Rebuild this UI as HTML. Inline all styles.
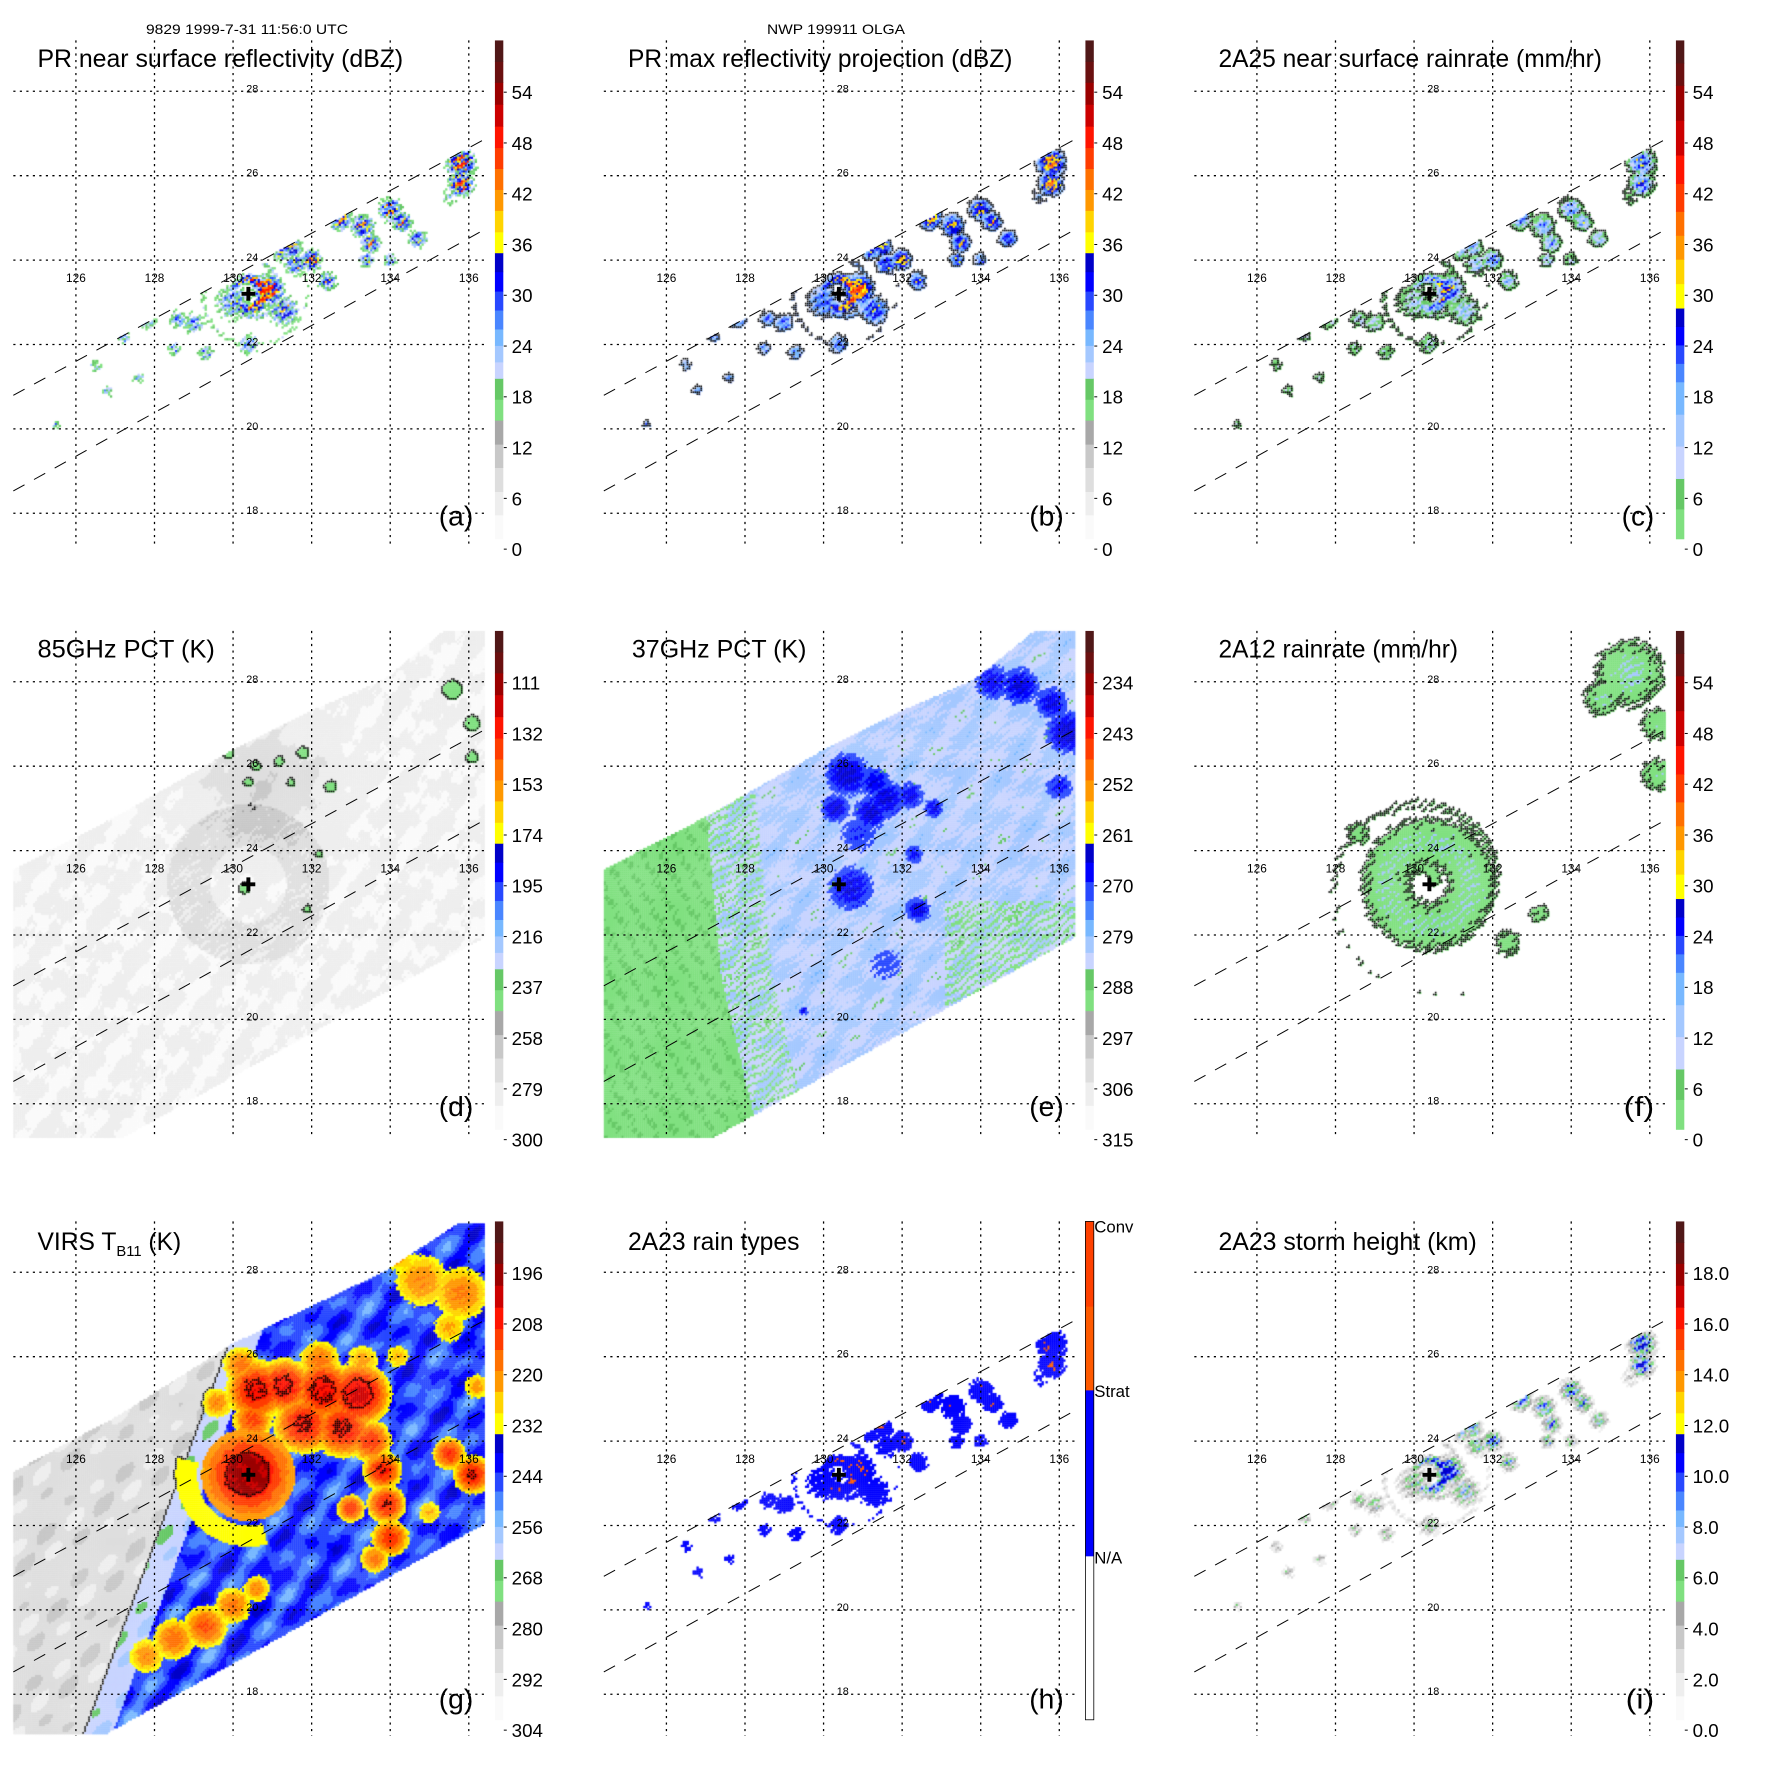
<!DOCTYPE html>
<html><head><meta charset="utf-8">
<style>
html,body{margin:0;padding:0;background:#fff;}
#wrap{position:relative;width:1771px;height:1771px;overflow:hidden;background:#fff;}
#field{position:absolute;left:0;top:0;}
#chart{position:absolute;left:0;top:0;}
text{font-family:"Liberation Sans",sans-serif;fill:#000;}
</style></head>
<body>
<div id="wrap">
<canvas id="field" width="1771" height="1771"></canvas>
<svg id="chart" width="1771" height="1771" viewBox="0 0 1771 1771" xmlns="http://www.w3.org/2000/svg">
 <text x="247" y="34" font-size="14" text-anchor="middle" textLength="202" lengthAdjust="spacingAndGlyphs">9829 1999-7-31 11:56:0 UTC</text>
 <text x="836" y="34" font-size="14" text-anchor="middle" textLength="138" lengthAdjust="spacingAndGlyphs">NWP 199911 OLGA</text>
 <g id="pa" transform="translate(0,0) scale(0.9859)">
  <text x="38" y="68" font-size="25" textLength="371" lengthAdjust="spacingAndGlyphs">PR near surface reflectivity (dBZ)</text>
  <text x="445" y="533" font-size="28" textLength="35" lengthAdjust="spacingAndGlyphs">(a)</text>
 </g>
 <g id="pb" transform="translate(590.5,0) scale(0.9859)">
  <text x="38" y="68" font-size="25" textLength="390" lengthAdjust="spacingAndGlyphs">PR max reflectivity projection (dBZ)</text>
  <text x="445" y="533" font-size="28" textLength="35" lengthAdjust="spacingAndGlyphs">(b)</text>
 </g>
 <g id="pc" transform="translate(1181,0) scale(0.9859)">
  <text x="38" y="68" font-size="25" textLength="389" lengthAdjust="spacingAndGlyphs">2A25 near surface rainrate (mm/hr)</text>
  <text x="447" y="533" font-size="28" textLength="33" lengthAdjust="spacingAndGlyphs">(c)</text>
 </g>
 <g id="pd" transform="translate(0,590.5) scale(0.9859)">
  <text x="38" y="68" font-size="25" textLength="180" lengthAdjust="spacingAndGlyphs">85GHz PCT (K)</text>
  <text x="445" y="533" font-size="28" textLength="35" lengthAdjust="spacingAndGlyphs">(d)</text>
 </g>
 <g id="pe" transform="translate(590.5,590.5) scale(0.9859)">
  <text x="42" y="68" font-size="25" textLength="177" lengthAdjust="spacingAndGlyphs">37GHz PCT (K)</text>
  <text x="445" y="533" font-size="28" textLength="35" lengthAdjust="spacingAndGlyphs">(e)</text>
 </g>
 <g id="pf" transform="translate(1181,590.5) scale(0.9859)">
  <text x="38" y="68" font-size="25" textLength="243" lengthAdjust="spacingAndGlyphs">2A12 rainrate (mm/hr)</text>
  <text x="449" y="533" font-size="28" textLength="31" lengthAdjust="spacingAndGlyphs">(f)</text>
 </g>
 <g id="pg" transform="translate(0,1181) scale(0.9859)">
  <text x="38" y="70" font-size="25">VIRS T<tspan font-size="15" dy="6">B11</tspan><tspan dy="-6"> (K)</tspan></text>
  <text x="445" y="535" font-size="28" textLength="35" lengthAdjust="spacingAndGlyphs">(g)</text>
 </g>
 <g id="ph" transform="translate(590.5,1181) scale(0.9859)">
  <text x="38" y="70" font-size="25" textLength="174" lengthAdjust="spacingAndGlyphs">2A23 rain types</text>
  <text x="445" y="535" font-size="28" textLength="35" lengthAdjust="spacingAndGlyphs">(h)</text>
 </g>
 <g id="pi" transform="translate(1181,1181) scale(0.9859)">
  <text x="38" y="70" font-size="25" textLength="262" lengthAdjust="spacingAndGlyphs">2A23 storm height (km)</text>
  <text x="451" y="535" font-size="28" textLength="29" lengthAdjust="spacingAndGlyphs">(i)</text>
 </g>
</svg>
</div>
<script>
// ---- data arrays ----
const lonTicks=[126,128,130,132,134,136];
const latTicks=[18,20,22,24,26,28];
const stormCenter=[130.39,23.2];
const labelsA=['0','6','12','18','24','30','36','42','48','54'];
const labelsC=['0','6','12','18','24','30','36','42','48','54'];
const labelsD=['300','279','258','237','216','195','174','153','132','111'];
const labelsE=['315','306','297','288','279','270','261','252','243','234'];
const labelsF=['0','6','12','18','24','30','36','42','48','54'];
const labelsG=['304','292','280','268','256','244','232','220','208','196'];
const labelsI=['0.0','2.0','4.0','6.0','8.0','10.0','12.0','14.0','16.0','18.0'];
const labelsH=['N/A','Strat','Conv'];
const prCells=[[130.9,23.3,0.35,0.95],[130.0,23.0,0.5,0.5],[131.3,22.8,0.4,0.6],[131.6,23.9,0.3,0.6],[131.2,24.2,0.25,0.6],
[131.5,24.3,0.25,0.7],[132.0,24.0,0.25,0.8],[132.4,23.5,0.25,0.6],[132.7,25.0,0.3,0.8],[133.3,24.8,0.3,0.7],[133.5,24.4,0.25,0.7],
[133.4,24.0,0.2,0.6],[134.0,25.2,0.3,0.7],[134.3,24.9,0.25,0.7],[134.0,24.0,0.2,0.5],[134.7,24.5,0.25,0.6],[135.8,26.3,0.35,0.85],
[135.8,25.8,0.3,0.85],[135.5,25.5,0.3,0.35],[129.0,22.5,0.3,0.5],[128.6,22.6,0.25,0.5],[127.8,22.6,0.25,0.6],[127.2,22.2,0.2,0.5],
[129.3,21.8,0.25,0.45],[128.5,21.9,0.2,0.45],[126.5,21.5,0.2,0.4],[126.8,20.9,0.2,0.4],[127.6,21.2,0.2,0.4],[125.5,20.1,0.15,0.4],[130.4,22.0,0.3,0.5]];
const eCells=[[130.6,25.8,0.5,1],[131.3,25.6,0.4,0.8],[131.6,25.2,0.45,0.9],[130.3,25.0,0.35,0.9],[131.2,24.9,0.4,0.95],[132.2,25.3,0.35,0.8],
[132.8,25.0,0.25,0.8],[130.7,23.1,0.55,0.85],[132.4,22.6,0.3,0.9],[134.3,28.0,0.45,0.8],[135.0,27.9,0.45,0.9],[135.8,27.5,0.4,0.85],
[136.2,26.8,0.5,1],[136.0,25.5,0.35,0.7],[130.9,24.4,0.55,0.55],[132.3,23.9,0.25,0.7],[131.6,21.3,0.6,0.45],[129.5,20.2,0.1,0.9]];
const dCells=[[129.9,26.3,0.15,1],[130.6,26.0,0.12,1],[131.2,26.1,0.12,1],[131.8,26.3,0.15,1],[130.4,25.6,0.12,1],[131.5,25.6,0.1,1],
[132.5,25.5,0.15,1],[135.6,27.8,0.25,1],[136.1,27.0,0.2,1],[136.1,26.2,0.15,1],[130.3,23.1,0.15,1],[131.9,22.6,0.1,1],[132.2,23.9,0.1,1]];
const fCells=[[135.5,28.2,0.9,1],[134.8,27.6,0.5,0.9],[136.2,27.0,0.5,0.8],[136.2,25.8,0.5,0.8],[132.4,21.8,0.4,0.75],[133.2,22.5,0.35,0.7],[128.6,24.4,0.4,0.7]];
const gCells=[[130.6,25.2,0.6,0.82],[131.3,25.3,0.55,0.82],[132.3,25.2,0.6,0.83],[133.2,25.1,0.6,0.85],[131.8,24.4,0.6,0.81],[132.8,24.3,0.6,0.81],
[130.5,24.5,0.45,0.76],[133.5,24.0,0.45,0.78],[130.2,25.8,0.45,0.72],[132.2,25.9,0.5,0.72],[133.3,25.9,0.45,0.68],[129.6,24.9,0.4,0.7],
[133.8,23.3,0.4,0.8],[133.9,22.5,0.4,0.8],[134.0,21.7,0.4,0.78],[133.6,21.2,0.35,0.72],[133.0,22.4,0.3,0.78],
[136.1,23.2,0.4,0.8],[135.5,23.7,0.35,0.78],[135.0,22.3,0.35,0.66],[134.8,27.8,0.7,0.7],[135.8,27.5,0.7,0.71],[134.2,28.4,0.5,0.67],
[135.5,26.7,0.45,0.67],[134.2,26.0,0.35,0.66],[136.2,25.3,0.35,0.68],[127.8,18.9,0.45,0.7],[128.5,19.3,0.5,0.73],[129.3,19.6,0.5,0.75],
[130.0,20.1,0.45,0.72],[130.6,20.5,0.35,0.7]];

const scaleA=[[0,'#fafafa'],[0.048,'#eeeeee'],[0.095,'#dedede'],[0.143,'#c8c8c8'],[0.19,'#a8a8a8'],[0.238,'#80e080'],[0.28,'#66c866'],
[0.322,'#c8d4ff'],[0.355,'#a4c8ff'],[0.388,'#78b8ff'],[0.421,'#4a86ff'],[0.459,'#2848ff'],[0.497,'#0000ff'],[0.536,'#0000c8'],
[0.574,'#ffff00'],[0.616,'#ffd400'],[0.659,'#ff9800'],[0.701,'#ff7000'],[0.743,'#ff3c00'],[0.785,'#ff1400'],[0.828,'#cc0000'],
[0.872,'#9a0000'],[0.916,'#6a1010'],[0.958,'#501818']];
const scaleC=[[0,'#80e080'],[0.06,'#66c866'],[0.121,'#c8d4ff'],[0.186,'#a4c8ff'],[0.25,'#78b8ff'],[0.315,'#4a86ff'],[0.352,'#2848ff'],
[0.389,'#0000ff'],[0.426,'#0000c8'],[0.463,'#ffff00'],[0.512,'#ffd400'],[0.561,'#ff9800'],[0.609,'#ff7000'],[0.657,'#ff3c00'],
[0.713,'#ff1400'],[0.77,'#cc0000'],[0.84,'#9a0000'],[0.91,'#6a1010'],[0.955,'#501818']];
const scaleH=[[0,'#ffffff'],[0.329,'#0000ff'],[0.662,'#ff5a00'],[0.83,'#ff4000']];

const K=0.9859;
const PANEL_X=[0,590.5,1181], PANEL_Y=[0,590.5,1181];
function X(lon){return 77+(lon-126)*39.85;}
function Y(lat){return 92.6+(28-lat)*42.8;}
function LON(x){return 126+(x-77)/39.85;}
function LAT(y){return 28-(y-92.6)/42.8;}
const MAP_L=13.5, MAP_R=492, MAP_T=41;
const PR_POLY=[[13.5,401],[492,141],[492,232.5],[13.5,498]];
const TMI_POLY=[[13.5,283],[120,228],[236,162],[320,120],[390,90],[450,41],[492,41],[492,351],[124,555],[13.5,555]];
const VIRS_POLY=[[13.5,295],[120,238],[236,165],[320,125],[388,93],[465,43],[492,43],[492,347],[105,562],[13.5,562]];
function inPoly(p,x,y){let c=false;for(let i=0,j=p.length-1;i<p.length;j=i++){const xi=p[i][0],yi=p[i][1],xj=p[j][0],yj=p[j][1];
 if(((yi>y)!=(yj>y))&&(x<(xj-xi)*(y-yi)/(yj-yi)+xi))c=!c;}return c;}

function tex(lo,la){return 0.5+0.18*Math.sin(lo*13.1+la*7.3)+0.14*Math.sin(lo*29.7-la*23.1+2*Math.sin(la*3.7))+0.12*Math.cos(lo*5.3+la*17.9)+0.08*Math.sin(lo*53.3+la*47.9+3*Math.sin(la*9.1));}
function tex2(lo,la){return 0.5+0.2*Math.sin(lo*41.3+la*11.7+2*Math.sin(la*5.3))*Math.cos(la*37.1-lo*9.3+1.7*Math.sin(lo*4.1))+0.2*Math.sin(lo*19.9-la*31.3+1.5*Math.cos(lo*7.7))+0.1*Math.sin(lo*71-la*63+2.5*Math.cos(la*11.3));}
function smooth(lo,la){return 0.5+0.3*Math.sin(lo*3.1+la*2.3)*Math.cos(la*4.7-lo*1.9)+0.2*Math.sin(lo*7.3-la*5.9+1.1);}
function polar(lo,la){const dx=(lo-stormCenter[0])*0.92,dy=la-stormCenter[1];return [Math.hypot(dx,dy),Math.atan2(dy,dx)];}
function blobs(list,lo,la){let v=0;for(const b of list){const d=Math.hypot((lo-b[0])*0.92,la-b[1])/b[2];v=Math.max(v,b[3]*Math.exp(-d*d));}return v;}
function prField(lo,la){const [r,th]=polar(lo,la);let v=blobs(prCells,lo,la);
 v=Math.max(v,0.95*Math.exp(-Math.pow((r-0.35)/0.14,2))*(0.75+0.25*Math.cos(th)));
 if(r>0.3){const arm=Math.pow(0.5+0.5*Math.cos(2*Math.PI*r/0.7-th),4);v=Math.max(v,0.6*arm*Math.exp(-r/1.6));}
 return v;}
const fieldFns={
 a:(lo,la)=>{const q=prField(lo,la)*(0.3+1.4*tex2(lo,la));return q<0.3?null:Math.min(0.8,0.24+(q-0.3)*0.8);},
 b:(lo,la)=>{const q=prField(lo,la)*(0.6+0.8*tex2(lo,la));return q<0.3?null:Math.min(0.8,0.33+(q-0.3)*0.65);},
 c:(lo,la)=>{const q=prField(lo,la)*(0.5+1.0*tex2(lo,la));return q<0.3?null:Math.min(0.7,0.03+(q-0.3)*0.65);},
 h:(lo,la)=>{const q=prField(lo,la)*(0.5+1.0*tex2(lo,la));if(q<0.3)return null;return (q>0.75&&tex(lo,la)>0.6)?0.8:0.5;},
 i:(lo,la)=>{const q=prField(lo,la)*(0.4+1.2*tex2(lo,la));return q<0.25?null:Math.min(0.56,0.05+(q-0.25)*0.75);},
 d:(lo,la)=>{const [r]=polar(lo,la);let f=0.02+0.04*smooth(lo,la)+0.02*tex(lo,la);
  if(r>0.9&&r<1.9)f+=0.05*tex2(lo,la)+0.03;f+=0.09*blobs([[130.8,25.6,1.4,1]],lo,la);
  if(blobs(dCells,lo,la)>0.45)f=0.26;return f;},
 e:(lo,la)=>{const t=tex(lo,la),t2=tex2(lo,la);let f=0.355+0.06*(smooth(lo,la)-0.5)+0.04*(t2-0.5);
  const b=blobs(eCells,lo,la)*(0.6+0.8*t2);if(b>0.35)f=0.41+Math.min(b,1)*0.15;
  const wb=la<21?127.4+0.25*(21-la):127.4-0.1*(la-21);
  if(lo<wb)f=0.26+0.03*t;
  else if(lo<wb+1.3&&t2>0.6)f=0.26;
  else if(lo>133.1&&la<22.8&&t2>0.56)f=0.26;
  return f;},
 f:(lo,la)=>{const [r,th]=polar(lo,la);let v=0;
  if(r>0.28)v=0.9*Math.exp(-Math.pow((r-1.0)/0.7,2));
  const arm=Math.pow(0.5+0.5*Math.cos(2*Math.PI*r/1.5-th),2);v=Math.max(v,0.8*arm*Math.exp(-r/3.5));
  v=Math.max(v,blobs(fCells,lo,la));const q=v*(0.55+0.9*tex2(lo,la));
  if(q<0.5)return null;return q>1.0?0.2:0.05;},
 g:(lo,la)=>{const [r,th]=polar(lo,la);const t=tex(lo,la),t2=tex2(lo,la),s=smooth(lo,la);
  let f=0.40+0.16*s+0.03*(t-0.5);
  const wb=128.6+0.4*(la-22);
  if(lo<wb-0.4){f=0.07+0.1*s;}
  else if(lo<wb+0.3){f=0.31+0.06*s;}
  for(const c of gCells){const d=Math.hypot((lo-c[0])*0.92,la-c[1])/c[2];if(d<1.4){const v=c[3]-0.16*d*d+0.05*(t2-0.5);if(v>0.58)f=Math.max(f,v);}}
  if(r<0.5)f=0.86+0.03*t;else if(r<1.1)f=Math.max(f,0.8-0.14*(r-0.5)/0.6+0.03*(t-0.5));
  else if(r>1.2&&r<1.7&&(th<-1.3||th>2.9))f=Math.max(f,0.61);
  return Math.min(f,0.95);}
};
const contourRules={a:null,b:'present',c:'present',f:'present',h:null,i:null,e:null,d:[0.2],g:[0.3,0.8]};

const panels=[
 {id:'a',col:0,row:0,scale:scaleA,labels:labelsA,poly:PR_POLY},
 {id:'b',col:1,row:0,scale:scaleA,labels:labelsA,poly:PR_POLY},
 {id:'c',col:2,row:0,scale:scaleC,labels:labelsC,poly:PR_POLY},
 {id:'d',col:0,row:1,scale:scaleA,labels:labelsD,poly:TMI_POLY},
 {id:'e',col:1,row:1,scale:scaleA,labels:labelsE,poly:TMI_POLY},
 {id:'f',col:2,row:1,scale:scaleC,labels:labelsF,poly:TMI_POLY},
 {id:'g',col:0,row:2,scale:scaleA,labels:labelsG,poly:VIRS_POLY},
 {id:'h',col:1,row:2,scale:scaleH,labels:labelsH,poly:PR_POLY},
 {id:'i',col:2,row:2,scale:scaleA,labels:labelsI,poly:PR_POLY}];

function colorOf(scale,f){let c=scale[0][1];for(const s of scale){if(f>=s[0])c=s[1];}return c;}
function cls(rule,f){if(rule==='present')return f===null?0:1;if(f===null)return -1;let k=0;for(const t of rule)if(f>=t)k++;return k;}

const ctx=document.getElementById('field').getContext('2d');
const CELL=2;
for(const p of panels){
 const ox=PANEL_X[p.col],oy=PANEL_Y[p.row];const fn=fieldFns[p.id];const rule=contourRules[p.id];
 ctx.setTransform(K,0,0,K,ox,oy);
 const nx=Math.ceil((MAP_R-MAP_L)/CELL),ny=Math.ceil((565-MAP_T)/CELL);
 const grid=new Array(nx*ny);const ins=new Array(nx*ny);
 for(let j=0;j<ny;j++)for(let i=0;i<nx;i++){
  const x=MAP_L+i*CELL+1,y=MAP_T+j*CELL+1;const inside=inPoly(p.poly,x,y);ins[j*nx+i]=inside;
  if(!inside){grid[j*nx+i]=null;continue;}
  const f=fn(LON(x),LAT(y));grid[j*nx+i]=f;
  if(f!==null){ctx.fillStyle=colorOf(p.scale,f);ctx.fillRect(MAP_L+i*CELL,MAP_T+j*CELL,CELL+0.3,CELL+0.3);}
 }
 if(rule){ctx.fillStyle='#000';
  for(let j=0;j<ny-1;j++)for(let i=0;i<nx-1;i++){const k=j*nx+i;if(!ins[k])continue;
   const a=cls(rule,grid[k]);
   if((ins[k+1]&&cls(rule,grid[k+1])!==a)||(ins[k+nx]&&cls(rule,grid[k+nx])!==a))
    ctx.fillRect(MAP_L+i*CELL,MAP_T+j*CELL,1.6,1.6);}
 }
}
ctx.setTransform(1,0,0,1,0,0);

const NS='http://www.w3.org/2000/svg';
function el(tag,parent){const e=document.createElementNS(NS,tag);parent.appendChild(e);return e;}
for(const p of panels){
 const g=document.getElementById('p'+p.id);
 const bottom=p.row===2?563:555;
 for(const lon of lonTicks){const l=el('line',g);
  
  
  l.setAttribute('x1',X(lon));l.setAttribute('x2',X(lon));l.setAttribute('y1',MAP_T);l.setAttribute('y2',bottom);
  l.setAttribute('stroke','#000');l.setAttribute('stroke-width','1.3');l.setAttribute('stroke-dasharray','2.2 4.4');
  const t=el('text',g);
  
  
  t.setAttribute('x',X(lon));t.setAttribute('y',286);t.setAttribute('font-size','12');t.setAttribute('text-anchor','middle');
  t.textContent=String(lon);}
 for(const lat of latTicks){const l=el('line',g);
  
  
  l.setAttribute('x1',MAP_L);l.setAttribute('x2',MAP_R);l.setAttribute('y1',Y(lat));l.setAttribute('y2',Y(lat));
  l.setAttribute('stroke','#000');l.setAttribute('stroke-width','1.3');l.setAttribute('stroke-dasharray','2.2 4.4');
  const t=el('text',g);
  
  
  t.setAttribute('x',X(130.49));t.setAttribute('y',Y(lat)+1);t.setAttribute('font-size','11');t.setAttribute('text-anchor','middle');
  t.textContent=String(lat);}
 const edges=[[PR_POLY[0],PR_POLY[1]],[PR_POLY[3],PR_POLY[2]]];
 for(const e of edges){const l=el('line',g);
  
  
  l.setAttribute('x1',e[0][0]);l.setAttribute('y1',e[0][1]);l.setAttribute('x2',e[1][0]);l.setAttribute('y2',e[1][1]);
  l.setAttribute('stroke','#000');l.setAttribute('stroke-width','1');l.setAttribute('stroke-dasharray','13 11');}
 const cb=el('g',g);
 
 
 const BT=41,BB=546.5,BH=BB-BT;
 for(let k=0;k<p.scale.length;k++){const f0=p.scale[k][0],f1=k+1<p.scale.length?p.scale[k+1][0]:1;const r=el('rect',cb);
  
  
  r.setAttribute('x',502);r.setAttribute('width',8.5);r.setAttribute('y',BB-f1*BH);r.setAttribute('height',(f1-f0)*BH+0.5);
  r.setAttribute('fill',p.scale[k][1]);}
 if(p.id==='h'){const o=el('rect',cb);
  
  
  o.setAttribute('x',502);o.setAttribute('y',BT);o.setAttribute('width',8.5);o.setAttribute('height',BH);
  o.setAttribute('fill','none');o.setAttribute('stroke','#000');o.setAttribute('stroke-width','0.8');
  const ys=[382,213,46];
  p.labels.forEach((s,k)=>{const t=el('text',cb);
   
   
   t.setAttribute('x',511);t.setAttribute('y',ys[k]+6);t.setAttribute('font-size','17');t.textContent=s;});
 } else {
  p.labels.forEach((s,k)=>{const y=557-51.5*k;const t=el('text',cb);
   
   
   t.setAttribute('x',519);t.setAttribute('y',y+7);t.setAttribute('font-size','19');t.textContent=s;
   const tk=el('line',cb);
   
   
   tk.setAttribute('x1',511);tk.setAttribute('x2',514);tk.setAttribute('y1',y);tk.setAttribute('y2',y);tk.setAttribute('stroke','#000');tk.setAttribute('stroke-width','1');});
 }
 const cx=X(stormCenter[0]),cy=Y(stormCenter[1]);const cr=el('path',g);
 
 
 cr.setAttribute('d','M'+(cx-7)+' '+cy+'H'+(cx+7)+'M'+cx+' '+(cy-7)+'V'+(cy+7));
 cr.setAttribute('stroke','#000');cr.setAttribute('stroke-width','4');
}
</script>
</body></html>
